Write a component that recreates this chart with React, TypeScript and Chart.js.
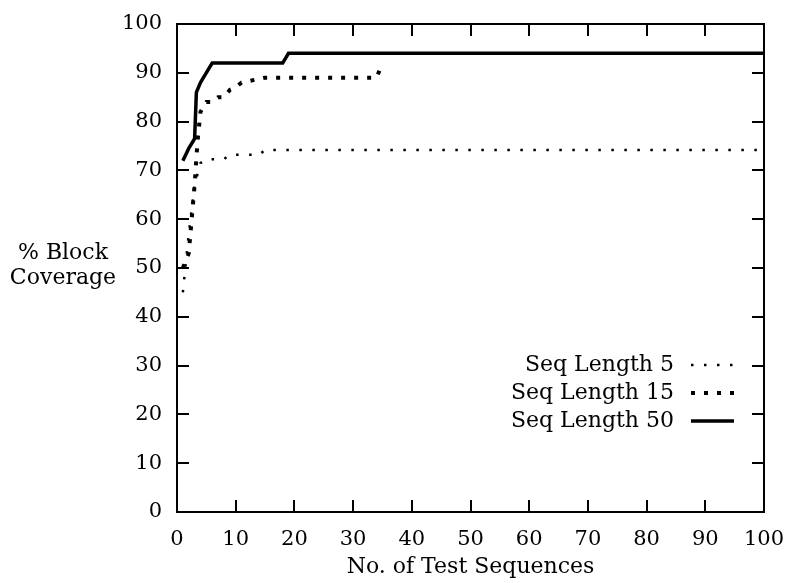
import React, { useEffect, useRef } from 'react';
import Chart from 'chart.js/auto';

// Series names (legend)
const seriesNames = ['Seq Length 5', 'Seq Length 15', 'Seq Length 50'];

// Seq Length 5
const seq5X = [1, 2, 3, 4, 5, 8, 9, 14, 15, 100];
const seq5Y = [45, 57, 67, 71.5, 72.3, 72.3, 73.2, 73.2, 74.2, 74.2];

// Seq Length 15
const seq15X = [1, 2, 3, 3.5, 4, 5, 6, 7, 8, 9, 10, 11, 15, 34, 35];
const seq15Y = [50, 53, 67, 76, 82, 84, 84, 85, 85, 86.5, 87, 88, 89, 89, 92];

// Seq Length 50
const seq50X = [1, 2, 3, 3.3, 4, 4.5, 5.5, 6, 18, 19, 100];
const seq50Y = [72, 74.5, 76.5, 86, 88, 89, 91, 92, 92, 94, 94];

// Axes
const xTicks = [0, 10, 20, 30, 40, 50, 60, 70, 80, 90, 100];
const yTicks = [0, 10, 20, 30, 40, 50, 60, 70, 80, 90, 100];
const xTitle = 'No. of Test Sequences';
const yTitleLines = ['% Block', 'Coverage'];

const FONT = '"DejaVu Serif", serif';

export default function App() {
  const ref = useRef<HTMLCanvasElement>(null);

  useEffect(() => {
    if (!ref.current) return;
    const toPts = (xs: number[], ys: number[]) => xs.map((x, i) => ({ x, y: ys[i] }));

    const styles = [
      { width: 2.5, dash: [2.5, 10.5] },
      { width: 4, dash: [4, 9] },
      { width: 3.5, dash: [] as number[] },
    ];

    const decor = {
      id: 'decor',
      afterDraw(chart: any) {
        const { ctx, chartArea: a, scales } = chart;
        const xs = scales.x;
        const ys = scales.y;
        ctx.save();
        ctx.strokeStyle = '#000';
        ctx.fillStyle = '#000';
        ctx.lineWidth = 2;
        ctx.setLineDash([]);
        ctx.lineCap = 'butt';
        // frame
        ctx.strokeRect(a.left, a.top, a.right - a.left, a.bottom - a.top);
        // inward ticks on all four sides
        const tl = 12;
        ctx.beginPath();
        xTicks.forEach((v) => {
          const px = Math.round(xs.getPixelForValue(v));
          ctx.moveTo(px, a.bottom);
          ctx.lineTo(px, a.bottom - tl);
          ctx.moveTo(px, a.top);
          ctx.lineTo(px, a.top + tl);
        });
        yTicks.forEach((v) => {
          const py = Math.round(ys.getPixelForValue(v));
          ctx.moveTo(a.left, py);
          ctx.lineTo(a.left + tl, py);
          ctx.moveTo(a.right, py);
          ctx.lineTo(a.right - tl, py);
        });
        ctx.stroke();

        // titles
        ctx.font = `22px ${FONT}`;
        ctx.textAlign = 'center';
        ctx.textBaseline = 'middle';
        ctx.fillText(xTitle, (a.left + a.right) / 2, 567);
        ctx.fillText(yTitleLines[0], 63, 253);
        ctx.fillText(yTitleLines[1], 63, 278);

        // legend
        chart.data.datasets.forEach((ds: any, i: number) => {
          const y = 365 + i * 28;
          ctx.textAlign = 'right';
          ctx.fillText(ds.label, 674, y);
          ctx.beginPath();
          ctx.lineWidth = ds.borderWidth;
          ctx.setLineDash(ds.borderDash || []);
          ctx.moveTo(691, y);
          ctx.lineTo(734, y);
          ctx.stroke();
        });
        ctx.restore();
      },
    };

    const datasets = [
      toPts(seq5X, seq5Y),
      toPts(seq15X, seq15Y),
      toPts(seq50X, seq50Y),
    ].map((data, i) => ({
      label: seriesNames[i],
      data,
      borderColor: '#000',
      backgroundColor: '#000',
      borderWidth: styles[i].width,
      borderDash: styles[i].dash,
      borderCapStyle: 'butt',
      borderJoinStyle: 'miter',
      pointRadius: 0,
      fill: false,
      tension: 0,
    }));

    const chart = new Chart(ref.current, {
      type: 'line',
      data: { datasets },
      options: {
        responsive: false,
        animation: false,
        devicePixelRatio: 1,
        layout: { padding: { top: 24, right: 21, left: 0, bottom: 0 } },
        plugins: { legend: { display: false }, tooltip: { enabled: false }, title: { display: false } },
        scales: {
          x: {
            type: 'linear',
            min: 0,
            max: 100,
            afterFit: (s: any) => { s.height = 71; s.paddingLeft = 0; s.paddingRight = 0; },
            afterBuildTicks: (s: any) => { s.ticks = xTicks.map((v) => ({ value: v })); },
            grid: { display: false, drawTicks: false },
            border: { display: false },
            ticks: { color: '#000', font: { family: FONT, size: 21 }, padding: 15, maxRotation: 0, autoSkip: false },
          },
          y: {
            type: 'linear',
            min: 0,
            max: 100,
            afterFit: (s: any) => { s.width = 177; s.paddingTop = 0; s.paddingBottom = 0; },
            afterBuildTicks: (s: any) => { s.ticks = yTicks.map((v) => ({ value: v })); },
            grid: { display: false, drawTicks: false },
            border: { display: false },
            ticks: { color: '#000', font: { family: FONT, size: 21 }, padding: 15, autoSkip: false },
          },
        },
      },
      plugins: [decor],
    } as any);

    return () => chart.destroy();
  }, []);

  return (
    <div style={{ position: 'fixed', left: 0, top: 0, width: 785, height: 583, background: '#fff' }}>
      <canvas ref={ref} width={785} height={583} style={{ display: 'block' }} />
    </div>
  );
}
